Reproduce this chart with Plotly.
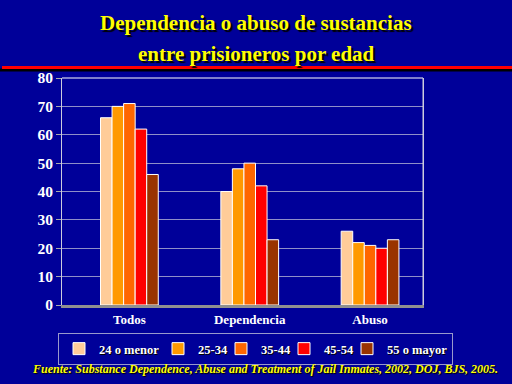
import plotly.graph_objects as go

categories = ["Todos", "Dependencia", "Abuso"]
series_names = ["24 o menor", "25-34", "35-44", "45-54", "55 o mayor"]
v_24_menor = [66, 40, 26]
v_25_34 = [70, 48, 22]
v_35_44 = [71, 50, 21]
v_45_54 = [62, 42, 20]
v_55_mayor = [46, 23, 23]
series_values = [v_24_menor, v_25_34, v_35_44, v_45_54, v_55_mayor]
colors = ["#FFCC99", "#FF9900", "#FF6600", "#FF0000", "#993300"]
legend_widths = [54, 18, 18, 18, 60]
y_ticks = [0, 10, 20, 30, 40, 50, 60, 70, 80]

BG = "#000099"
serif = "Liberation Serif, Times New Roman, serif"
L, R, T, B = 62, 89, 78, 79
PW, PH = 512 - L - R, 384 - T - B


def px_x(x):
    return (x - L) / PW


def px_y(y):
    return (384 - B - y) / PH


fig = go.Figure()
for name, vals, col, lw in zip(series_names, series_values, colors, legend_widths):
    fig.add_trace(go.Bar(
        x=categories, y=vals, name=name, legendwidth=lw,
        marker=dict(color=col, line=dict(color="#FFFFFF", width=1)),
    ))

fig.update_layout(
    width=512, height=384,
    paper_bgcolor=BG, plot_bgcolor=BG,
    margin=dict(l=L, r=R, t=T, b=B, autoexpand=False),
    barmode="group", bargap=0.52, bargroupgap=0,
    showlegend=True,
    legend=dict(
        orientation="h", x=px_x(58), y=px_y(333), xanchor="left", yanchor="top",
        bgcolor=BG, bordercolor="#9999CC", borderwidth=1,
        font=dict(family=serif, size=12.5, color="white", weight="bold",
                  shadow="1px 1px 0px black"),
        itemwidth=30, tracegroupgap=0,
    ),
    font=dict(family=serif, color="white"),
)
fig.update_yaxes(
    range=[0, 80], tickvals=y_ticks,
    tickfont=dict(family=serif, size=15.5, color="white", weight="bold"),
    gridcolor="#8F8FC8", gridwidth=1,
    showline=True, linecolor="#CCCCDD", linewidth=1, mirror=True,
    zeroline=False, ticks="outside", ticklen=5, tickcolor="#AAAAAA",
)
fig.update_xaxes(
    range=[-0.56, 2.44],
    tickfont=dict(family=serif, size=13, color="white", weight="bold"),
    showline=True, linecolor="#909090", linewidth=3, mirror=False,
)
# top/right border of plot area
fig.add_shape(type="line", xref="paper", yref="paper", x0=0, x1=1, y0=1, y1=1,
              line=dict(color="white", width=1))
fig.add_shape(type="line", xref="paper", yref="paper", x0=1, x1=1, y0=0, y1=1,
              line=dict(color="#CCCCDD", width=1))

# title (two lines)
title_lines = ["Dependencia o abuso de sustancias", "entre prisioneros por edad"]
for txt, ypx in zip(title_lines, [23, 54]):
    fig.add_annotation(
        text=txt, xref="paper", yref="paper", x=px_x(256), y=px_y(ypx),
        xanchor="center", yanchor="middle", showarrow=False,
        font=dict(family=serif, size=21, color="#FFFF00", weight="bold",
                  shadow="2px 2px 1px black"),
    )
# red rule with shadow
fig.add_shape(type="line", xref="paper", yref="paper",
              x0=px_x(0), x1=px_x(512), y0=px_y(70), y1=px_y(70),
              line=dict(color="black", width=3))
fig.add_shape(type="line", xref="paper", yref="paper",
              x0=px_x(2), x1=px_x(512), y0=px_y(67.5), y1=px_y(67.5),
              line=dict(color="#FF0000", width=3))
# source
fig.add_annotation(
    text="<i>Fuente: Substance Dependence, Abuse and Treatment of Jail Inmates, 2002, DOJ, BJS, 2005.</i>",
    xref="paper", yref="paper", x=px_x(265), y=px_y(369),
    xanchor="center", yanchor="middle", showarrow=False,
    font=dict(family=serif, size=12, color="#FFFF00", weight="bold",
              shadow="1px 1px 1px black"),
)

fig.write_html(
    "out.html",
    config={"displayModeBar": False},
    post_script="document.body.style.margin='0px';document.body.style.background='#000099';",
)
